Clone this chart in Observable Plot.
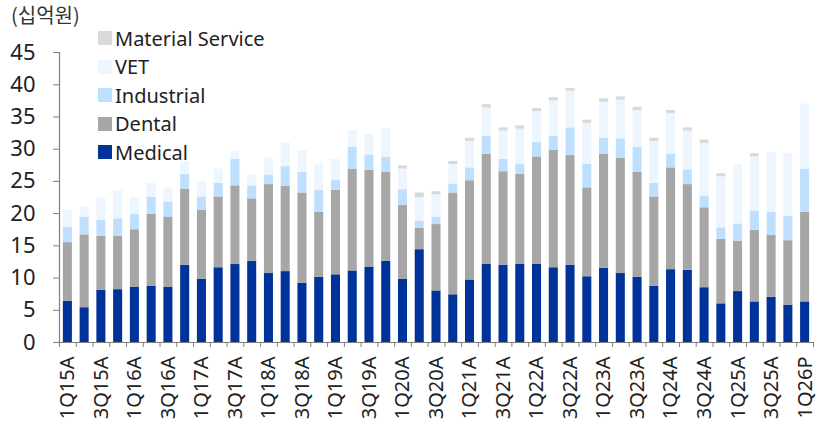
<!DOCTYPE html>
<html>
<head>
<meta charset="utf-8">
<script src="https://cdn.jsdelivr.net/npm/d3@7"></script>
<script src="https://cdn.jsdelivr.net/npm/@observablehq/plot@0.6"></script>
<style>
  body { margin: 0; background: #fff; font-family: "Noto Sans", "Noto Sans CJK KR", sans-serif; }
  #wrap { position: relative; width: 819px; height: 428px; }
  #unit { position: absolute; left: 11px; top: 2px; font-size: 20px; line-height: 26px; color: #333; font-family: "Noto Sans CJK KR", "Noto Sans", sans-serif; }
  #legend { position: absolute; left: 98px; top: 24px; font-size: 20px; color: #222; }
  .item { display: flex; align-items: center; height: 28.5px; white-space: nowrap; }
  .sw { width: 14px; height: 14px; margin-right: 3px; flex: none; }
</style>
</head>
<body>
<div id="wrap">
  <div id="chart"></div>
  <div id="unit">(십억원)</div>
  <div id="legend"></div>
</div>
<script>
const quarters = [
  "1Q15A","2Q15A","3Q15A","4Q15A","1Q16A","2Q16A","3Q16A","4Q16A",
  "1Q17A","2Q17A","3Q17A","4Q17A","1Q18A","2Q18A","3Q18A","4Q18A",
  "1Q19A","2Q19A","3Q19A","4Q19A","1Q20A","2Q20A","3Q20A","4Q20A",
  "1Q21A","2Q21A","3Q21A","4Q21A","1Q22A","2Q22A","3Q22A","4Q22A",
  "1Q23A","2Q23A","3Q23A","4Q23A","1Q24A","2Q24A","3Q24A","4Q24A",
  "1Q25A","2Q25A","3Q25A","4Q25A","1Q26P"
];
const seriesNames = ["Medical", "Dental", "Industrial", "VET", "Material Service"];
const seriesColors = ["#003399", "#a6a6a6", "#bfdfff", "#edf6ff", "#d9d9d9"];

const medical = [6.4,5.4,8.1,8.2,8.6,8.7,8.6,12.0,9.8,11.6,12.1,12.6,10.7,11.0,9.2,10.1,
  10.5,11.1,11.7,12.6,9.8,14.4,8.0,7.4,9.7,12.1,12.0,12.1,12.1,11.6,12.0,10.2,
  11.5,10.7,10.1,8.7,11.3,11.2,8.5,6.0,7.9,6.3,7.0,5.8,6.3];
const dental = [9.1,11.3,8.4,8.3,8.9,11.2,10.8,11.8,10.7,11.0,12.2,9.7,13.8,13.2,14.0,10.1,
  13.1,15.8,15.0,13.8,11.5,3.3,10.3,15.8,15.4,17.1,14.5,14.0,16.7,18.2,17.0,13.8,
  17.7,17.9,16.3,13.9,15.8,13.3,12.4,10.0,7.8,11.1,9.6,10.0,13.9];
const industrial = [2.4,2.7,2.5,2.7,2.4,2.6,2.4,2.3,2.1,2.1,4.1,2.0,1.5,3.1,3.2,3.4,
  1.6,3.4,2.4,2.3,2.4,1.1,1.1,1.4,2.0,2.8,1.9,1.5,2.3,2.2,4.3,3.7,
  2.5,3.0,3.9,2.1,2.1,2.3,1.8,1.8,2.7,3.0,3.6,3.8,6.7];
const vet = [2.6,1.6,3.4,4.4,2.5,2.2,2.2,2.0,2.3,2.2,1.2,1.7,2.6,3.7,3.4,4.1,
  3.2,2.6,3.2,4.5,3.2,3.7,3.5,3.0,4.1,4.4,4.4,5.5,4.7,5.5,5.7,6.3,
  5.6,6.0,5.7,6.5,6.3,6.0,8.2,7.9,9.2,8.4,9.3,9.7,10.1];
const materialService = [0,0,0,0,0,0,0,0,0,0,0,0,0,0,0,0,
  0,0,0,0,0.5,0.7,0.5,0.5,0.5,0.5,0.5,0.5,0.5,0.5,0.4,0.5,
  0.5,0.5,0.5,0.5,0.5,0.5,0.5,0.5,0,0.5,0,0,0];
const yTicks = [0,5,10,15,20,25,30,35,40,45];
const xLabels = quarters.filter((d, i) => i % 2 === 0);

const seriesValues = [medical, dental, industrial, vet, materialService];
const rows = [];
quarters.forEach((q, i) => {
  seriesNames.forEach((s, k) => rows.push({q, s, v: seriesValues[k][i]}));
});

const W = 819, H = 428, ML = 59, MR = 6, MT = 52, MB = 86;
const step = (W - ML - MR) / quarters.length;
const axisColor = "#7f7f7f";
const font = "'Noto Sans', 'Noto Sans CJK KR', sans-serif";

const chart = Plot.plot({
  width: W, height: H,
  marginLeft: ML, marginRight: MR, marginTop: MT, marginBottom: MB,
  style: {fontFamily: font, fontSize: "20px", color: "#222", background: "white"},
  x: {domain: quarters, paddingInner: 0.46, paddingOuter: 0.23, label: null},
  y: {domain: [0, 45], label: null},
  color: {domain: seriesNames, range: seriesColors},
  marks: [
    Plot.barY(rows, {x: "q", y: "v", fill: "s", order: seriesNames}),
    Plot.ruleY([0], {stroke: axisColor, strokeWidth: 1.2}),
    Plot.ruleX([quarters[0]], {x: d => d, y1: 0, y2: 45, dx: -step / 2, stroke: axisColor, strokeWidth: 1.2}),
    Plot.axisY({ticks: yTicks, tickSize: 6, tickPadding: 18, fontSize: 22, label: null, stroke: axisColor, fill: "#222"}),
    Plot.axisX({ticks: quarters, tickSize: 5, tickFormat: () => "", dx: -step / 2, label: null, stroke: axisColor}),
    Plot.axisX({ticks: [quarters[quarters.length - 1]], tickSize: 5, tickFormat: () => "", dx: step / 2, label: null, stroke: axisColor}),
    Plot.axisX({ticks: xLabels, tickSize: 0, tickPadding: 14, tickRotate: -90, fontSize: 20, label: null, fill: "#222"})
  ]
});
document.getElementById("chart").appendChild(chart);

const legend = document.getElementById("legend");
[...seriesNames].reverse().forEach(name => {
  const item = document.createElement("div");
  item.className = "item";
  const sw = document.createElement("span");
  sw.className = "sw";
  sw.style.background = seriesColors[seriesNames.indexOf(name)];
  const label = document.createElement("span");
  label.textContent = name;
  item.appendChild(sw);
  item.appendChild(label);
  legend.appendChild(item);
});
</script>
</body>
</html>
